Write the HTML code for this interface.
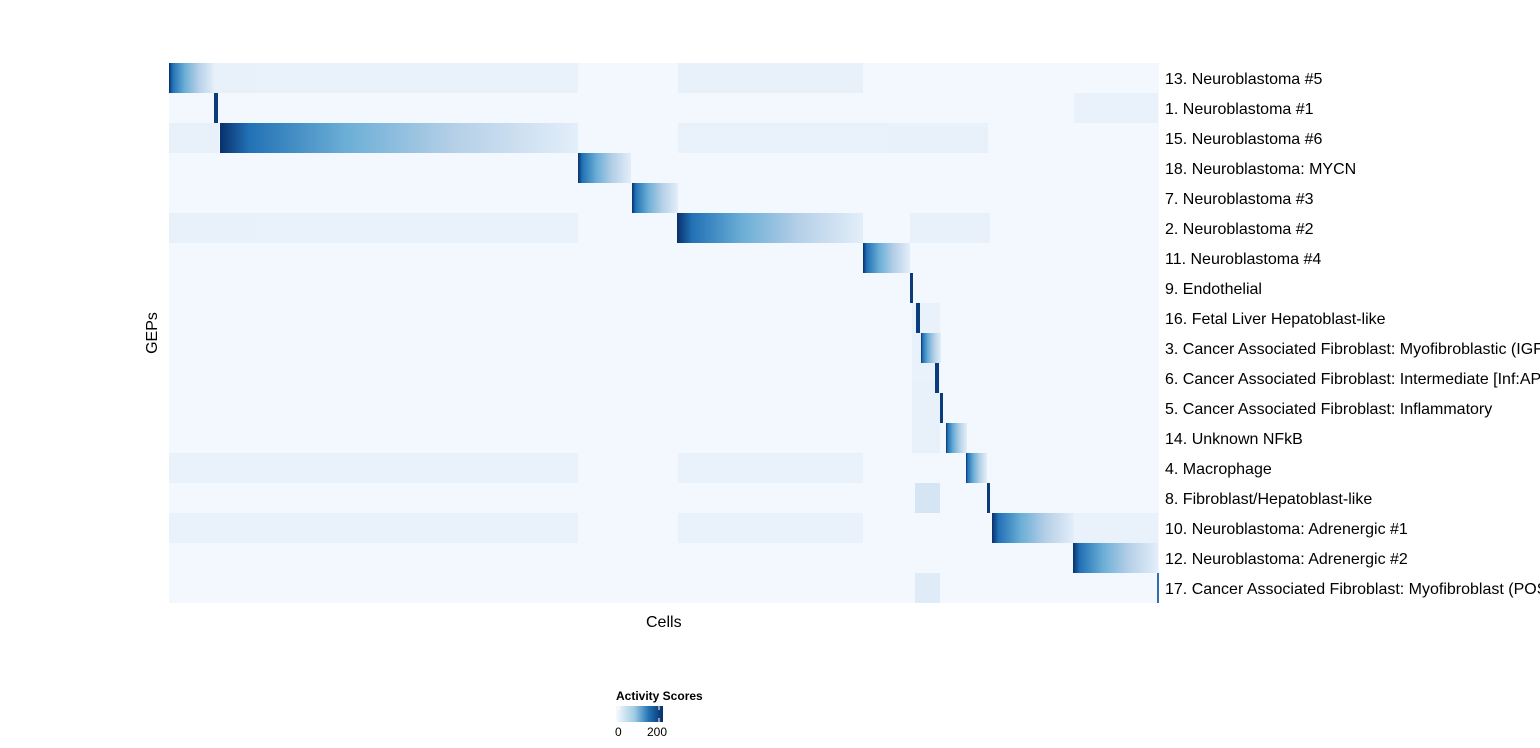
<!DOCTYPE html>
<html><head><style>
body{margin:0;background:#fff;width:1540px;height:743px;overflow:hidden;font-family:"Liberation Sans",Arial,sans-serif}
</style></head><body>
<svg width="1540" height="743" xmlns="http://www.w3.org/2000/svg" font-family="Liberation Sans, Arial, sans-serif">
<defs>
<linearGradient id="g" x1="0" x2="1" y1="0" y2="0">
<stop offset="0" stop-color="#08306b"/><stop offset="0.08" stop-color="#2171b5"/><stop offset="0.35" stop-color="#6baed6"/><stop offset="0.65" stop-color="#b4cfe7"/><stop offset="1" stop-color="#e3eef9"/>
</linearGradient>
<linearGradient id="lg" x1="0" x2="1" y1="0" y2="0">
<stop offset="0" stop-color="#f7fbff"/><stop offset="0.4" stop-color="#9ecae1"/><stop offset="0.7" stop-color="#2171b5"/><stop offset="1" stop-color="#08306b"/>
</linearGradient>
</defs>
<rect x="169" y="63" width="990" height="540" fill="#f3f8fe"/>
<g fill="#e6eff9" opacity="0.8">
<rect x="169" y="63" width="409" height="30"/>
<rect x="678" y="63" width="185" height="30"/>
<rect x="169" y="123" width="50" height="30"/>
<rect x="678" y="123" width="310" height="30"/>
<rect x="169" y="213" width="409" height="30"/>
<rect x="910" y="213" width="80" height="30"/>
<rect x="169" y="513" width="409" height="30"/>
<rect x="678" y="513" width="185" height="30"/>
<rect x="1074" y="513" width="84" height="30"/>
<rect x="169" y="453" width="409" height="30"/>
<rect x="678" y="453" width="185" height="30"/>
<rect x="1074" y="93" width="84" height="30"/>
<rect x="915" y="483" width="25" height="30" fill="#cfe1f2"/>
<rect x="915" y="573" width="25" height="30" fill="#dbe8f5"/>
<rect x="912" y="303" width="28" height="150"/>
</g>
<g fill="url(#g)">
<rect x="169" y="63" width="45" height="30"/>
<rect x="220" y="123" width="358" height="30"/>
<rect x="578" y="153" width="53" height="30"/>
<rect x="632" y="183" width="46" height="30"/>
<rect x="677" y="213" width="186" height="30"/>
<rect x="863" y="243" width="47" height="30"/>
<rect x="921" y="333" width="20" height="30"/>
<rect x="946" y="423" width="21" height="30"/>
<rect x="966" y="453" width="21" height="30"/>
<rect x="992" y="513" width="82" height="30"/>
<rect x="1073" y="543" width="85" height="30"/>
</g>
<g fill="#0b3c7a">
<rect x="214" y="93" width="4" height="30"/>
<rect x="910" y="273" width="3" height="30"/>
<rect x="916" y="303" width="4" height="30"/>
<rect x="935" y="363" width="4" height="30"/>
<rect x="940" y="393" width="3" height="30"/>
<rect x="987" y="483" width="3" height="30"/>
<rect x="1157" y="573" width="2" height="30" fill="#2f6fb0"/>
</g>
<g font-size="16" fill="#000">
<text x="1165" y="84">13. Neuroblastoma #5</text>
<text x="1165" y="114">1. Neuroblastoma #1</text>
<text x="1165" y="144">15. Neuroblastoma #6</text>
<text x="1165" y="174">18. Neuroblastoma: MYCN</text>
<text x="1165" y="204">7. Neuroblastoma #3</text>
<text x="1165" y="234">2. Neuroblastoma #2</text>
<text x="1165" y="264">11. Neuroblastoma #4</text>
<text x="1165" y="294">9. Endothelial</text>
<text x="1165" y="324">16. Fetal Liver Hepatoblast-like</text>
<text x="1165" y="354">3. Cancer Associated Fibroblast: Myofibroblastic (IGF</text>
<text x="1165" y="384">6. Cancer Associated Fibroblast: Intermediate [Inf:AP</text>
<text x="1165" y="414">5. Cancer Associated Fibroblast: Inflammatory</text>
<text x="1165" y="444">14. Unknown NFkB</text>
<text x="1165" y="474">4. Macrophage</text>
<text x="1165" y="504">8. Fibroblast/Hepatoblast-like</text>
<text x="1165" y="534">10. Neuroblastoma: Adrenergic #1</text>
<text x="1165" y="564">12. Neuroblastoma: Adrenergic #2</text>
<text x="1165" y="594">17. Cancer Associated Fibroblast: Myofibroblast (POS</text>
<text x="646" y="627">Cells</text>
<text x="157" y="333" text-anchor="middle" transform="rotate(-90 157 333)">GEPs</text>
</g>
<text x="616" y="700" font-size="12" font-weight="bold">Activity Scores</text>
<rect x="616" y="706" width="47" height="16" fill="url(#lg)"/>
<line x1="659" y1="706" x2="659" y2="710" stroke="#fff"/><line x1="659" y1="718" x2="659" y2="722" stroke="#fff"/>
<line x1="619" y1="706" x2="619" y2="710" stroke="#fff"/>
<text x="615" y="736" font-size="12">0</text>
<text x="647" y="736" font-size="12">200</text>
</svg>
</body></html>
